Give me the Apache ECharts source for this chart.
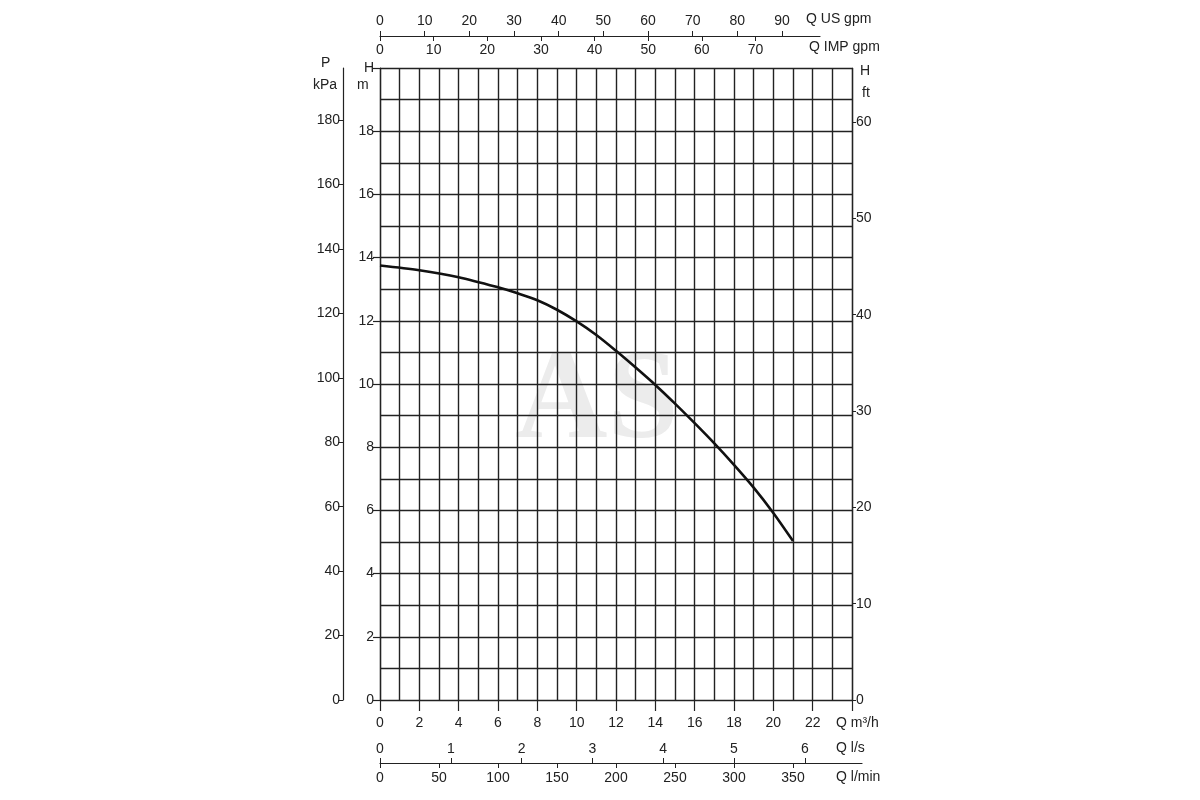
<!DOCTYPE html>
<html>
<head>
<meta charset="utf-8">
<title>Pump curve</title>
<script src="https://cdn.jsdelivr.net/npm/echarts@6/dist/echarts.min.js"></script>
<style>
    html, body { margin: 0; padding: 0; background: #fff; }
    #chart { width: 1200px; height: 800px; }
</style>
</head>
<body>
<div id="chart"></div>
<script>
// pump curve
var flowM3h = [0, 2, 4, 6, 7, 8, 9, 10, 11, 12, 13, 14, 15, 16, 17, 18, 19, 20, 21];
var headM = [13.75, 13.6, 13.38, 13.06, 12.87, 12.65, 12.35, 11.98, 11.55, 11.05, 10.52, 9.97, 9.38, 8.76, 8.12, 7.44, 6.72, 5.92, 5.03];

// tick labels of each scale
var m3hTicks = [0, 2, 4, 6, 8, 10, 12, 14, 16, 18, 20, 22];
var usGpmTicks = [0, 10, 20, 30, 40, 50, 60, 70, 80, 90];
var impGpmTicks = [0, 10, 20, 30, 40, 50, 60, 70];
var lpsTicks = [0, 1, 2, 3, 4, 5, 6];
var lpmTicks = [0, 50, 100, 150, 200, 250, 300, 350];
var kpaTicks = [0, 20, 40, 60, 80, 100, 120, 140, 160, 180];
var ftTicks = [0, 10, 20, 30, 40, 50, 60];

// axis ranges (main scale)
var flowMax = 24;   // m3/h
var headMax = 20;   // m

// unit conversions
var US_GPM = 4.40287;      // per m3/h
var IMP_GPM = 3.66615;     // per m3/h
var LPS = 1 / 3.6;         // per m3/h
var LPM = 1000 / 60;       // per m3/h
var KPA = 9.80665;         // per m
var FT = 3.28084;          // per m

var font = "'Liberation Sans Narrow', 'Liberation Sans', Arial, sans-serif";
var ink = '#222';

// layout
var plotLeft = 380, plotTop = 68, plotW = 472, plotH = 632;

var myChart;

window.onload = function () {
    myChart = echarts.init(document.getElementById('chart'));
    drawChart();
};

function lbl(extra) {
    var o = { color: ink, fontSize: 14, fontFamily: font };
    for (var k in extra) o[k] = extra[k];
    return o;
}

function sideGrid(top, width) {
    return { left: plotLeft, top: top, width: width, height: 10, containLabel: false };
}

// one extra flow scale sitting on its own thin grid
function flowScale(grid, width, factor, ticks, pos, inside, showLine, margin) {
    return {
        gridIndex: grid, type: 'value', position: pos,
        min: 0, max: width / plotW * flowMax * factor,
        axisLine: { show: showLine, onZero: false, lineStyle: { color: ink, width: 1.2 } },
        axisTick: { show: true, inside: inside, length: 5, customValues: ticks, lineStyle: { color: ink } },
        axisLabel: lbl({ inside: inside, margin: margin, customValues: ticks }),
        splitLine: { show: false }
    };
}

function drawChart() {
    var pairs = [];
    for (var i = 0; i < flowM3h.length; i++) {
        pairs.push([flowM3h[i], headM[i]]);
    }

    // widths of the extra scales (they stop short of the plot edge)
    var topW = 440, botW = 482;

    var option = {
        animation: false,
        backgroundColor: '#fff',
        grid: [
            { left: plotLeft, top: plotTop, width: plotW, height: plotH },
            sideGrid(36, topW),
            sideGrid(753, botW)
        ],
        xAxis: [
            {
                // Q m3/h
                gridIndex: 0, type: 'value', position: 'bottom',
                min: 0, max: flowMax, interval: 2,
                axisLine: { show: true, lineStyle: { color: ink, width: 1.2 } },
                axisTick: { show: true, length: 11, lineStyle: { color: ink, width: 1.2 } },
                axisLabel: lbl({ margin: 16, customValues: m3hTicks }),
                splitLine: { show: true, lineStyle: { color: ink, width: 1.4 } },
                minorTick: { show: false, splitNumber: 2 },
                minorSplitLine: { show: true, lineStyle: { color: ink, width: 1.4 } }
            },
            flowScale(1, topW, US_GPM, usGpmTicks, 'top', false, true, 8),
            flowScale(1, topW, IMP_GPM, impGpmTicks, 'top', true, false, 7),
            flowScale(2, botW, LPS, lpsTicks, 'bottom', true, true, 7),
            flowScale(2, botW, LPM, lpmTicks, 'bottom', false, false, 8)
        ],
        yAxis: [
            {
                // H m
                gridIndex: 0, type: 'value', position: 'left',
                min: 0, max: headMax, interval: 2,
                axisLine: { show: true, lineStyle: { color: ink, width: 1.2 } },
                axisTick: { show: true, length: 7, lineStyle: { color: ink, width: 1.2 } },
                axisLabel: lbl({ margin: 6, formatter: function (v) { return v >= headMax ? 'H' : v; } }),
                splitLine: { show: true, lineStyle: { color: ink, width: 1.4 } },
                minorTick: { show: false, splitNumber: 2 },
                minorSplitLine: { show: true, lineStyle: { color: ink, width: 1.4 } }
            },
            {
                // P kPa
                gridIndex: 0, type: 'value', position: 'left', offset: 37,
                min: 0, max: headMax * KPA,
                axisLine: { show: true, lineStyle: { color: ink, width: 1.2 } },
                axisTick: { show: true, length: 5, customValues: kpaTicks, lineStyle: { color: ink } },
                axisLabel: lbl({ margin: 3, customValues: kpaTicks }),
                splitLine: { show: false }
            },
            {
                // H ft
                gridIndex: 0, type: 'value', position: 'right',
                min: 0, max: headMax * FT,
                axisLine: { show: true, lineStyle: { color: ink, width: 1.2 } },
                axisTick: { show: true, length: 4, customValues: ftTicks, lineStyle: { color: ink } },
                axisLabel: lbl({ margin: 4, customValues: ftTicks }),
                splitLine: { show: false }
            },
            { gridIndex: 1, show: false },
            { gridIndex: 2, show: false }
        ],
        graphic: [
            // faint watermark behind the grid
            { type: 'text', z: -10, left: 515, top: 340,
              style: { text: 'AS', font: 'bold 128px "Liberation Serif", serif', fill: '#ececec' } },
            { type: 'text', left: 806, top: 12, style: { text: 'Q US gpm', font: '14px ' + font, fill: ink } },
            { type: 'text', left: 809, top: 40, style: { text: 'Q IMP gpm', font: '14px ' + font, fill: ink } },
            { type: 'text', left: 836, top: 716, style: { text: 'Q m³/h', font: '14px ' + font, fill: ink } },
            { type: 'text', left: 836, top: 741, style: { text: 'Q l/s', font: '14px ' + font, fill: ink } },
            { type: 'text', left: 836, top: 770, style: { text: 'Q l/min', font: '14px ' + font, fill: ink } },
            { type: 'text', left: 321, top: 56, style: { text: 'P', font: '14px ' + font, fill: ink } },
            { type: 'text', left: 313, top: 78, style: { text: 'kPa', font: '14px ' + font, fill: ink } },
            { type: 'text', left: 357, top: 78, style: { text: 'm', font: '14px ' + font, fill: ink } },
            { type: 'text', left: 860, top: 64, style: { text: 'H', font: '14px ' + font, fill: ink } },
            { type: 'text', left: 862, top: 86, style: { text: 'ft', font: '14px ' + font, fill: ink } }
        ],
        series: [{
            name: 'H',
            type: 'line',
            xAxisIndex: 0,
            yAxisIndex: 0,
            smooth: 0.3,
            showSymbol: false,
            symbol: 'none',
            lineStyle: { color: '#111', width: 2.6 },
            data: pairs,
            z: 5
        }]
    };

    myChart.setOption(option);
}
</script>
</body>
</html>
